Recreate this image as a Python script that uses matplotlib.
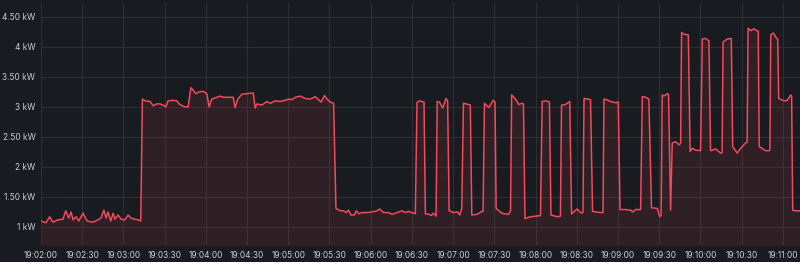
import matplotlib
matplotlib.use("Agg")
import matplotlib.pyplot as plt
from matplotlib.ticker import FuncFormatter, MultipleLocator

# seconds after 19:02:00
t = [0, 3.6, 6.3, 8.7, 12.4, 16.0, 18.0, 20.2, 21.9, 23.3, 25.5, 27.5, 30.6, 33.5, 37.9,
     41.5, 43.7, 45.7, 47.4, 48.8, 50.8, 52.5, 53.9, 56.1, 58.3, 61.2, 63.4, 65.4, 68.3,
     70.7, 72.6,
     73.8, 75.8, 79.4, 81.6, 84.3, 86.7, 88.9, 90.9, 92.5, 96.2, 98.9, 100.5, 102.7, 104.9,
     107.1, 109.1, 110.7, 112.7, 115.1, 118.0, 120.7, 122.4, 124.4, 128.0, 130.4, 132.6,
     136.2, 139.9, 141.3, 143.3, 146.2, 153.5, 154.5, 155.9, 157.2, 160.8, 164.4, 166.9,
     170.5, 174.1, 177.8, 180.2, 182.7, 185.1, 188.7, 192.3, 196.0, 199.6, 202.0, 204.0,
     206.4, 208.2, 210.6, 213.0,
     214.7, 217.9, 220.3, 222.2, 223.9, 225.6, 228.1, 229.5, 231.2, 233.7, 237.3, 240.9,
     244.6, 246.5, 249.4, 253.0, 255.5, 259.2, 262.8, 265.2, 267.6, 270.1, 272.5,
     273.7, 275.4, 278.8, 279.8, 282.7, 284.1, 285.6, 287.6,
     288.4, 290.1, 292.4, 294.8, 296.0, 297.1, 300.4, 303.3, 304.8, 306.3,
     307.5, 311.2, 312.5, 313.6, 317.3, 320.9, 321.8,
     322.8, 326.0, 329.2, 330.5, 331.3, 335.4, 340.3, 341.8,
     342.6, 345.3, 347.8, 350.2, 351.2, 352.3, 356.3, 360.0, 363.6,
     364.8, 367.9, 370.1, 371.2, 375.8, 378.1,
     378.9, 381.8, 384.9, 386.2, 390.3, 393.4, 394.5,
     395.3, 397.8, 400.0, 401.5, 404.4, 407.3, 409.1,
     409.8, 411.7, 414.6, 418.2, 420.2, 421.5, 425.5, 429.2, 430.6, 432.8, 436.5,
     437.7, 440.1, 442.5, 444.4, 448.6, 450.5, 451.4,
     452.2, 453.4, 455.9, 456.8, 458.3, 459.5, 462.0, 464.4, 465.6,
     466.3, 468.0, 471.2, 472.5, 474.1, 476.5, 480.1,
     481.4, 483.8, 486.2, 487.4, 491.1, 494.7, 495.8,
     496.5, 499.6, 502.5, 503.5, 505.6, 506.9, 509.3, 512.9, 514.0,
     514.7, 516.6, 519.0, 521.0, 522.1, 522.8, 527.5, 530.0, 530.6,
     531.2, 533.1, 535.5, 536.3, 537.0, 540.9, 543.3, 545.7, 546.4, 547.2, 549.3, 552.5]

kw = [1.10, 1.07, 1.17, 1.08, 1.12, 1.13, 1.27, 1.15, 1.25, 1.12, 1.17, 1.10, 1.23, 1.10, 1.08,
      1.12, 1.15, 1.28, 1.15, 1.25, 1.10, 1.23, 1.13, 1.20, 1.13, 1.12, 1.20, 1.15, 1.13,
      1.12, 1.10,
      3.13, 3.10, 3.09, 3.02, 3.05, 3.05, 3.03, 3.00, 3.10, 3.11, 3.10, 3.05, 3.02, 3.00,
      3.00, 3.32, 3.28, 3.22, 3.25, 3.26, 3.22, 3.00, 3.13, 3.16, 3.18, 3.16,
      3.16, 3.16, 2.99, 3.13, 3.21, 3.23, 3.23, 2.98, 3.05, 3.03, 3.09, 3.06,
      3.10, 3.09, 3.11, 3.13, 3.12, 3.16, 3.18, 3.14, 3.13, 3.17, 3.12, 3.08,
      3.19, 3.13, 3.08, 3.06,
      1.31, 1.27, 1.27, 1.24, 1.28, 1.20, 1.20, 1.27, 1.22, 1.24, 1.24, 1.25,
      1.27, 1.30, 1.24, 1.24, 1.21, 1.24, 1.27, 1.24, 1.26, 1.24, 1.22,
      3.07, 3.10, 3.08, 1.22, 1.21, 1.19, 1.23, 1.18,
      3.09, 3.08, 2.98, 3.14, 3.10, 1.27, 1.24, 1.25, 1.20, 1.31,
      3.06, 3.04, 3.03, 1.20, 1.21, 1.26, 1.26,
      3.06, 2.99, 3.11, 3.08, 1.31, 1.23, 1.21, 1.27,
      3.20, 3.13, 3.04, 3.06, 3.05, 1.14, 1.17, 1.18, 1.19,
      3.09, 3.10, 3.08, 1.20, 1.17, 1.18,
      3.03, 3.04, 3.09, 1.22, 1.30, 1.23, 1.24,
      3.14, 3.13, 3.12, 1.26, 1.25, 1.24, 1.24,
      3.13, 3.12, 3.09, 3.07, 3.08, 1.29, 1.29, 1.28, 1.25, 1.29, 1.29,
      3.17, 3.16, 3.13, 1.32, 1.31, 1.17, 1.19,
      3.20, 3.18, 3.22, 3.21, 1.28, 2.40, 2.42, 2.37, 2.39,
      4.24, 4.21, 4.20, 2.26, 2.31, 2.28, 2.27,
      4.13, 4.14, 4.10, 2.27, 2.30, 2.23, 2.24,
      4.08, 4.13, 4.14, 2.34, 2.27, 2.23, 2.31, 2.40, 2.41,
      4.31, 4.27, 4.30, 4.27, 4.26, 2.34, 2.27, 2.27, 2.28,
      4.20, 4.23, 4.14, 4.13, 3.14, 3.10, 3.11, 3.20, 3.18, 1.28, 1.27, 1.27]

y_ticks = [1, 1.5, 2, 2.5, 3, 3.5, 4, 4.5]
threshold = 1.5

bg = "#181b1f"
red = "#f2495c"
txt = "#ccccdc"

fig = plt.figure(figsize=(8, 2.62), dpi=100, facecolor=bg)
ax = fig.add_axes([41 / 800, 17 / 262, 1 - 41 / 800, 242 / 262])
ax.set_facecolor(bg)

ax.fill_between(t, kw, 0, color=red, alpha=0.11, linewidth=0)
ax.plot(t, kw, color=red, lw=1.1)
ax.axhline(threshold, color="#46474d", lw=0.8, ls=(0, (2, 2)), zorder=0.5)

ax.set_xlim(0, 552.5)
ax.set_ylim(0.7, 4.73)
ax.set_yticks(y_ticks)
ax.xaxis.set_major_locator(MultipleLocator(30))


def fmt_kw(v, pos):
    if abs(v - round(v)) < 1e-6:
        return "%d kW" % round(v)
    return "%.2f kW" % v


def fmt_time(s, pos):
    s = int(round(s)) + 19 * 3600 + 2 * 60
    return "%02d:%02d:%02d" % (s // 3600, (s // 60) % 60, s % 60)


ax.yaxis.set_major_formatter(FuncFormatter(fmt_kw))
ax.xaxis.set_major_formatter(FuncFormatter(fmt_time))

ax.grid(True, color="#2c2e33", lw=0.8)
ax.set_axisbelow(True)
for sp in ax.spines.values():
    sp.set_visible(False)
ax.tick_params(length=0, labelsize=6, labelcolor=txt, pad=4)
for lab in ax.get_xticklabels() + ax.get_yticklabels():
    lab.set_family("Inter")

fig.savefig("out.png", dpi=100, facecolor=bg)
